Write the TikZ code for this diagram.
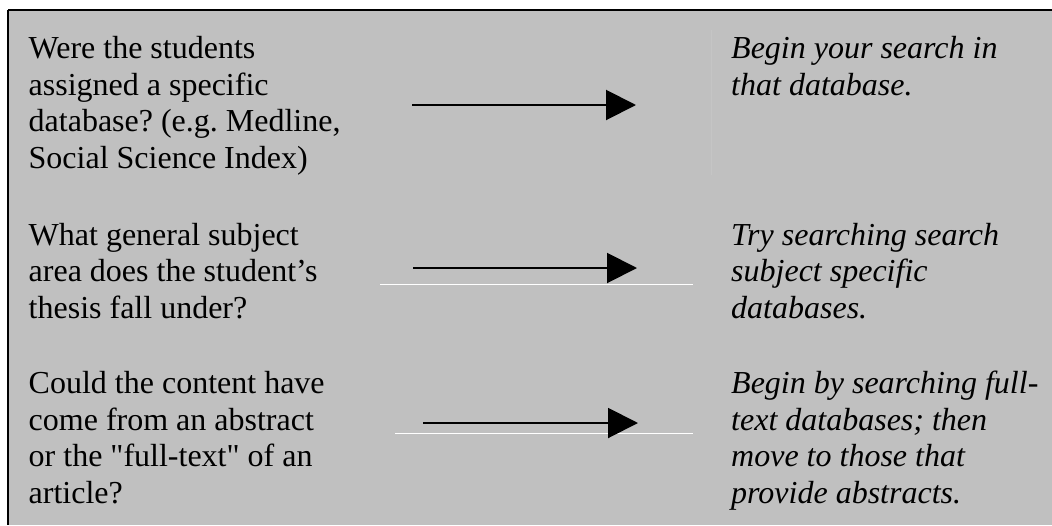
\documentclass[tikz,border=0pt]{standalone}
\usepackage{fontspec}
\setmainfont{Liberation Serif}
\frenchspacing
\usetikzlibrary{arrows.meta}
\definecolor{panelgray}{HTML}{C0C0C0}
\definecolor{faintline}{HTML}{C5C5C5}
\newcommand{\txtblock}[1]{\begin{tabular}[t]{@{}l@{}}#1\end{tabular}}
\tikzset{
  question/.style={anchor=base west, inner sep=0pt, font=\fontsize{32}{36.7}\selectfont},
  answer/.style={anchor=base west, inner sep=0pt, font=\fontsize{32}{36.7}\selectfont\itshape},
  flowarrow/.style={line width=2pt, -{Triangle[length=30pt,width=30pt]}},
  whiterule/.style={white, line width=1pt},
  border/.style={black, line width=1.6pt}
}
\begin{document}
\begin{tikzpicture}[x=1pt,y=-1pt]
\useasboundingbox (0,0) rectangle (1052,525);
\fill[white] (0,0) rectangle (1052,525);
\fill[panelgray] (8,10) rectangle (1052,525);
\draw[border] (8,10) -- (1052,10);
\draw[border] (8,10) -- (8,525);
\draw[faintline, line width=0.6pt] (711.5,30) -- (711.5,175);
% rules under arrows
\draw[whiterule] (380,284) -- (693,284);
\draw[whiterule] (395,433) -- (693,433);
% questions
\node[question] (q1) at (28.5,58.3) {\txtblock{Were the students\\assigned a specific\\database? (e.g. Medline,\\Social Science Index)}};
\node[question] (q2) at (28.5,245) {\txtblock{What general subject\\area does the student’s\\thesis fall under?}};
\node[question] (q3) at (28.5,393.3) {\txtblock{Could the content have\\come from an abstract\\or the \textquotedbl full-text\textquotedbl{} of an\\article?}};
% answers
\node[answer] (a1) at (731,58.3) {\txtblock{Begin your search in\\that database.}};
\node[answer] (a2) at (731,245) {\txtblock{Try searching search\\subject specific\\databases.}};
\node[answer] (a3) at (731,393.3) {\txtblock{Begin by searching full-\\text databases; then\\move to those that\\provide abstracts.}};
% arrows
\coordinate (s1) at (412,105);
\coordinate (e1) at (636,105);
\coordinate (s2) at (413,268);
\coordinate (e2) at (637,268);
\coordinate (s3) at (423,423);
\coordinate (e3) at (638,423);
\draw[flowarrow] (s1) -- (e1);
\draw[flowarrow] (s2) -- (e2);
\draw[flowarrow] (s3) -- (e3);
\end{tikzpicture}
\end{document}
